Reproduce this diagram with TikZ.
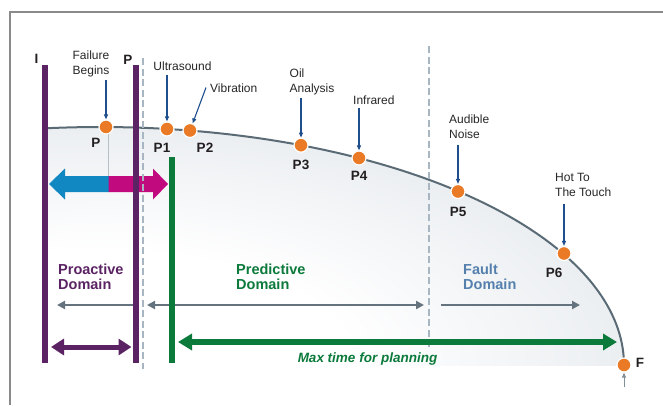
\documentclass[tikz,border=0pt]{standalone}
\usepackage{fontspec}
\setmainfont{Liberation Sans}
\usetikzlibrary{arrows.meta}
\definecolor{framec}{HTML}{8A8A8A}
\definecolor{purp}{HTML}{5B2363}
\definecolor{grn}{HTML}{0B7A3B}
\definecolor{dashc}{HTML}{A7B6C0}
\definecolor{curvec}{HTML}{5A6B76}
\definecolor{orng}{HTML}{EA7A25}
\definecolor{annc}{HTML}{1F4E8D}
\definecolor{slate}{HTML}{64737D}
\definecolor{bluec}{HTML}{1288C3}
\definecolor{magc}{HTML}{C20A7F}
\definecolor{faultc}{HTML}{5580AE}
\definecolor{shadec}{HTML}{C6CFD8}
\definecolor{thinc}{HTML}{B5C0C8}
\definecolor{txtc}{HTML}{262626}
\definecolor{lblc}{HTML}{231F20}
\pgfdeclareradialshading{domshade}{\pgfpoint{0bp}{0bp}}{color(0bp)=(white); color(12bp)=(white); color(50bp)=(shadec)}
\tikzset{
  dot/.style={circle, fill=orng, draw=white, line width=1.2pt, minimum size=14pt, inner sep=0pt},
  ann/.style={font=\fontsize{12}{15}\selectfont, text=txtc, inner sep=0pt},
  lbl/.style={font=\fontsize{13.5}{15}\selectfont\bfseries, text=lblc, inner sep=0pt, anchor=base},
  dom/.style={font=\fontsize{14.5}{15}\selectfont\bfseries, inner sep=0pt, anchor=north west, align=left},
  annarrow/.style={annc, line width=1.1pt, -{Triangle[length=5pt,width=4pt]}},
  bar/.style={line width=6pt},
  dashln/.style={dashc, line width=1.6pt, dash pattern=on 7pt off 3.5pt},
  grayarrow/.style={slate, line width=2pt},
  gtip/.tip={Triangle[length=8pt,width=8pt]},
  curve/.style={curvec, line width=2pt}
}
\begin{document}
\begin{tikzpicture}[x=1pt,y=-1pt]
\useasboundingbox (0,0) rectangle (663,405);
% shaded domain under the curve
\begin{scope}
\clip (45,0) rectangle (663,365);
\shade[shading=domshade] (100,365) ellipse [x radius=524pt, y radius=238pt];
\end{scope}
% frame
\draw[framec, line width=1.5pt] (10,405) -- (10,12) -- (663,12);
% curve
\draw[curve] plot[domain=95.7:0, samples=150] ({100+524*cos(\x)},{365-238*sin(\x)});

% coordinates
\coordinate (Itop) at (45,65);   \coordinate (Ibot) at (45,363);
\coordinate (Ptop) at (136,65);  \coordinate (Pbot) at (136,363);
\coordinate (Gtop) at (172,157); \coordinate (Gbot) at (172,363);
\coordinate (dl1t) at (143,58);  \coordinate (dl1b) at (143,369);
\coordinate (dl2t) at (429,46);  \coordinate (dl2b) at (429,350);
\coordinate (plt) at (108.5,134); \coordinate (plb) at (108.5,177);

% thin line from P down to arrow
\draw[thinc, line width=1pt] (plt) -- (plb);

% big two-coloured arrow
\fill[bluec] (49,184) -- (65,168.5) -- (65,176) -- (109,176) -- (109,192) -- (65,192) -- (65,199.5) -- cycle;
\fill[magc] (108.5,176) -- (153,176) -- (153,168.5) -- (168,184) -- (153,199.5) -- (153,192) -- (108.5,192) -- cycle;

% dashed lines
\draw[dashln] (dl1t) -- (dl1b);
\draw[dashln] (dl2t) -- (dl2b);

% gray domain arrows
\coordinate (ga1s) at (134,305); \coordinate (ga1e) at (57,305);
\coordinate (ga2s) at (147,305); \coordinate (ga2e) at (424,305);
\coordinate (ga3s) at (441,305); \coordinate (ga3e) at (580,305);
\draw[grayarrow, -gtip] (ga1s) -- (ga1e);
\draw[grayarrow, gtip-gtip] (ga2s) -- (ga2e);
\draw[grayarrow, -gtip] (ga3s) -- (ga3e);

% purple and green double arrows
\coordinate (pa1) at (51,347); \coordinate (pa2) at (131.5,347);
\draw[purp, line width=5pt, {Triangle[length=13pt,width=16pt]}-{Triangle[length=13pt,width=16pt]}] (pa1) -- (pa2);
\coordinate (gr1) at (178,342); \coordinate (gr2) at (617,342);
\draw[grn, line width=5.5pt, {Triangle[length=14pt,width=16pt]}-{Triangle[length=14pt,width=16pt]}] (gr1) -- (gr2);

% bars
\draw[bar, purp] (Itop) -- (Ibot);
\draw[bar, purp] (Ptop) -- (Pbot);
\draw[bar, grn] (Gtop) -- (Gbot);

% dots on the curve
\node[dot] (dP) at (106,127) {};
\node[dot] (d1) at (167,129) {};
\node[dot] (d2) at (190,130.5) {};
\node[dot] (d3) at (301,145.2) {};
\node[dot] (d4) at (359,158) {};
\node[dot] (d5) at (458,191.5) {};
\node[dot] (d6) at (564,253.5) {};
\node[dot] (dF) at (624,365) {};

% dot labels
\node[lbl] (lP) at (96,147) {P};
\node[lbl] (l1) at (162,152) {P1};
\node[lbl] (l2) at (205,152) {P2};
\node[lbl] (l3) at (301,169) {P3};
\node[lbl] (l4) at (359,180) {P4};
\node[lbl] (l5) at (458,216) {P5};
\node[lbl] (l6) at (554,277) {P6};
\node[lbl] (lF) at (640,367.5) {F};
\node[lbl] (lI) at (36.5,63.5) {I};
\node[lbl] (lPb) at (128,64) {P};

% annotation texts
\node[ann, align=center, anchor=north] (tfb) at (91,50.5) {Failure\\Begins};
\node[ann, anchor=base] (tus) at (182.5,70) {Ultrasound};
\node[ann, anchor=base west] (tvi) at (210,92) {Vibration};
\node[ann, align=left, anchor=north west] (toa) at (289.5,68.5) {Oil\\Analysis};
\node[ann, anchor=base west] (tir) at (353,104) {Infrared};
\node[ann, align=left, anchor=north west] (tan) at (449,114.5) {Audible\\Noise};
\node[ann, align=left, anchor=north west] (tht) at (555,173.5) {Hot To\\The Touch};

% annotation arrows
\draw[annarrow, shorten <=3pt] (tfb.south -| dP) -- (dP);
\draw[annarrow, shorten <=5pt] (tus.base -| d1) -- (d1);
\coordinate (vibs) at (206,87.5);
\draw[annarrow] (vibs) -- (d2);
\draw[annarrow, shorten <=2.5pt] (toa.south -| d3) -- (d3);
\draw[annarrow, shorten <=4pt] (tir.base -| d4) -- (d4);
\draw[annarrow, shorten <=6pt] (tan.south -| d5) -- (d5);
\draw[annarrow, shorten <=7pt] (tht.south -| d6) -- (d6);

% small arrow under F
\coordinate (fa) at (624,387);
\draw[color=slate!80, line width=1pt, -{Triangle[length=5pt,width=4pt]}] (fa) -- (dF);

% domain labels
\node[dom, text=purp] (tpro) at (58,263.5) {Proactive\\Domain};
\node[dom, text=grn] (tpre) at (236,263.5) {Predictive\\Domain};
\node[dom, text=faultc] (tfau) at (463,263.5) {Fault\\Domain};
\node[font=\fontsize{13.5}{15}\selectfont\bfseries\itshape, text=grn, inner sep=0pt, anchor=base] (tmax) at (367.5,362) {Max time for planning};
\end{tikzpicture}
\end{document}
